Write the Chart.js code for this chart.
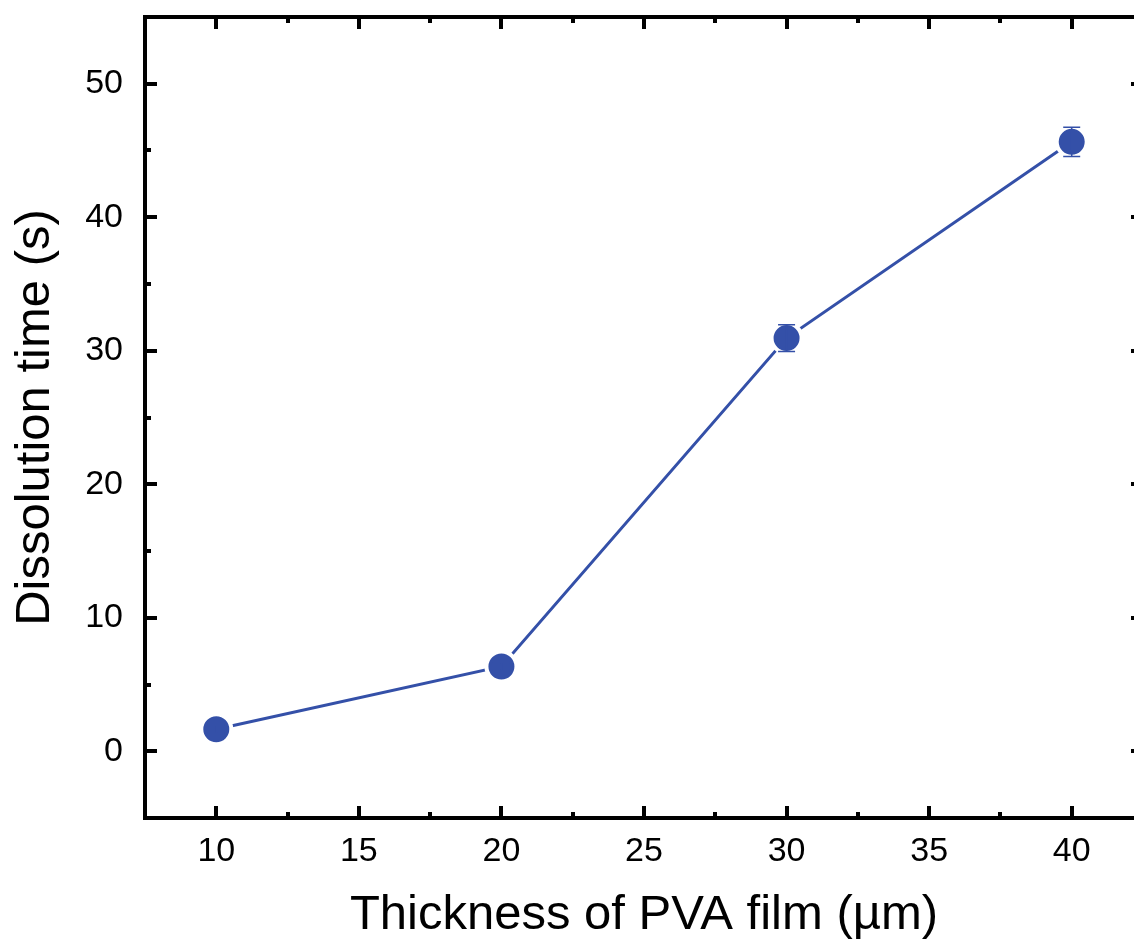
<!DOCTYPE html>
<html>
<head>
<meta charset="utf-8">
<script src="https://cdn.jsdelivr.net/npm/chart.js@4"></script>
<style>
  html, body { margin: 0; padding: 0; background: #fff; overflow: hidden; }
  #wrap { width: 1150px; height: 949px; }
</style>
</head>
<body>
<div id="wrap"><canvas id="dissolutionChart" width="1150" height="949"></canvas></div>
<script>
// film thickness (µm) and dissolution time (s)
const thickness = [10, 20, 30, 40];
const dissolutionTime = [1.65, 6.35, 30.95, 45.65];
const timeError = [0.3, 0.3, 1.0, 1.1];

const xMajorTicks = [10, 15, 20, 25, 30, 35, 40];
const yMajorTicks = [0, 10, 20, 30, 40, 50];

const blue = '#3450a8';

// frame with inward ticks on all four sides
const framePlugin = {
    id: 'frame',
    afterDraw(chart) {
        const ctx = chart.ctx;
        const a = chart.chartArea;
        const x = chart.scales.x, y = chart.scales.y;
        ctx.save();
        ctx.strokeStyle = '#000';
        ctx.lineWidth = 4;
        ctx.lineCap = 'butt';
        ctx.beginPath();
        for (let v = 7.5; v <= 42.5; v += 2.5) {
            const px = Math.round(x.getPixelForValue(v));
            const len = (v % 5 === 0) ? 12 : 6;
            ctx.moveTo(px, a.bottom); ctx.lineTo(px, a.bottom - len);
            ctx.moveTo(px, a.top); ctx.lineTo(px, a.top + len);
        }
        for (let v = -5; v <= 55; v += 5) {
            const py = Math.round(y.getPixelForValue(v));
            const len = (v % 10 === 0) ? 12 : 6;
            ctx.moveTo(a.left, py); ctx.lineTo(a.left + len, py);
            ctx.moveTo(a.right, py); ctx.lineTo(a.right - len, py);
        }
        ctx.stroke();
        ctx.strokeRect(a.left, a.top, a.right - a.left, a.bottom - a.top);
        ctx.restore();
    }
};

// vertical error bars with caps
const errorBarPlugin = {
    id: 'errorBars',
    afterDatasetsDraw(chart) {
        const ctx = chart.ctx;
        const x = chart.scales.x, y = chart.scales.y;
        ctx.save();
        ctx.strokeStyle = blue;
        ctx.lineWidth = 1.5;
        ctx.beginPath();
        thickness.forEach((t, i) => {
            const px = x.getPixelForValue(t);
            const top = y.getPixelForValue(dissolutionTime[i] + timeError[i]);
            const bot = y.getPixelForValue(dissolutionTime[i] - timeError[i]);
            ctx.moveTo(px, top); ctx.lineTo(px, bot);
            ctx.moveTo(px - 8.5, top); ctx.lineTo(px + 8.5, top);
            ctx.moveTo(px - 8.5, bot); ctx.lineTo(px + 8.5, bot);
        });
        ctx.stroke();
        ctx.restore();
    }
};

function noPadding(s) {
    s.paddingTop = 0; s.paddingBottom = 0;
    s.paddingLeft = 0; s.paddingRight = 0;
}

const ctx = document.getElementById('dissolutionChart').getContext('2d');
new Chart(ctx, {
    type: 'line',
    data: {
        datasets: [{
            data: thickness.map((t, i) => ({ x: t, y: dissolutionTime[i] })),
            borderColor: blue,
            borderWidth: 3,
            backgroundColor: blue,
            pointBackgroundColor: blue,
            pointBorderColor: '#fff',
            pointBorderWidth: 4,
            pointRadius: 15,
            tension: 0
        }]
    },
    options: {
        responsive: false,
        animation: false,
        layout: { autoPadding: false, padding: { top: 17, right: 7, left: 0, bottom: 0 } },
        plugins: {
            legend: { display: false },
            tooltip: { enabled: false }
        },
        scales: {
            x: {
                type: 'linear',
                min: 7.5,
                max: 42.5,
                afterBuildTicks: s => { s.ticks = xMajorTicks.map(v => ({ value: v })); },
                grid: { display: false, drawTicks: false },
                border: { display: false },
                ticks: {
                    color: '#000',
                    padding: 13,
                    font: { family: 'Liberation Sans, Arial', size: 34 }
                },
                title: {
                    display: true,
                    text: 'Thickness of PVA film (µm)',
                    color: '#000',
                    font: { family: 'Liberation Sans, Arial', size: 49 },
                    padding: { top: 0, bottom: 4 }
                },
                afterFit: s => { s.height = 131; noPadding(s); }
            },
            y: {
                min: -5,
                max: 55,
                afterBuildTicks: s => { s.ticks = yMajorTicks.map(v => ({ value: v })); },
                grid: { display: false, drawTicks: false },
                border: { display: false },
                ticks: {
                    color: '#000',
                    padding: 22,
                    font: { family: 'Liberation Sans, Arial', size: 34 }
                },
                title: {
                    display: true,
                    text: 'Dissolution time (s)',
                    color: '#000',
                    font: { family: 'Liberation Sans, Arial', size: 49 },
                    padding: { top: 6, bottom: 0 }
                },
                afterFit: s => { s.width = 145; noPadding(s); }
            }
        }
    },
    plugins: [framePlugin, errorBarPlugin]
});
</script>
</body>
</html>
